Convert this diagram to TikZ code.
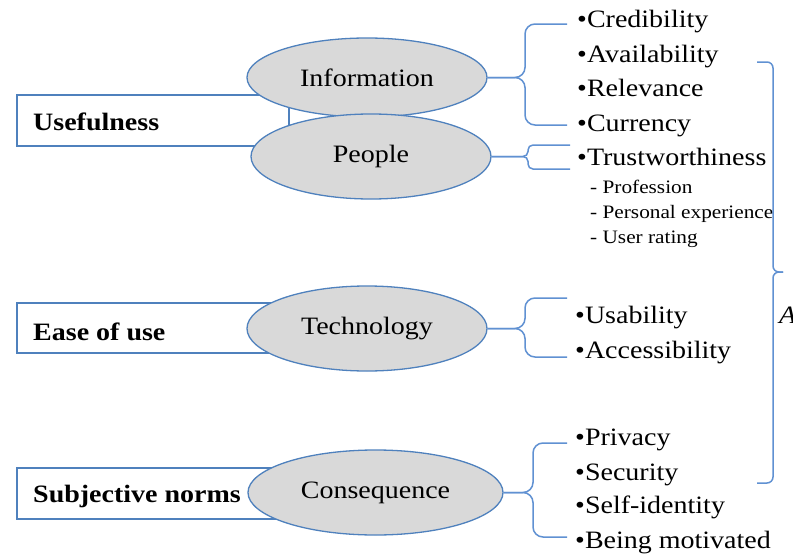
\documentclass[tikz,border=0pt]{standalone}
\usepackage{fontspec}
\setmainfont[FakeStretch=1.12]{Liberation Serif}
\usetikzlibrary{shapes.geometric}
\definecolor{edgeblue}{RGB}{79,129,189}
\definecolor{braceblue}{RGB}{96,145,210}
\definecolor{ellgray}{RGB}{217,217,217}
\begin{document}
\begin{tikzpicture}[x=1pt,y=-1pt,
  factorbox/.style={draw=edgeblue,line width=2.2pt,fill=white},
  factortext/.style={anchor=base west,inner sep=0pt,font=\fontsize{25}{28}\selectfont\bfseries},
  oval/.style={ellipse,draw=edgeblue,line width=1.3pt,fill=ellgray,inner sep=0pt,font=\fontsize{25}{28}\selectfont},
  item/.style={anchor=base west,inner sep=0pt,font=\fontsize{25}{28}\selectfont},
  subitem/.style={anchor=base west,inner sep=0pt,font=\fontsize{19}{22}\selectfont},
  bracepath/.style={draw=braceblue,line width=1.5pt,rounded corners=10pt}
]
\useasboundingbox (0,0) rectangle (793,557);
% factor boxes
\draw[factorbox] (17,95) rectangle (289,146);
\draw[factorbox] (17,303) rectangle (289,353);
\draw[factorbox] (17,468) rectangle (289,519);
\node[factortext] (useful) at (33,130) {Usefulness};
\node[factortext] (ease) at (33,340) {Ease of use};
\node[factortext] (subj) at (33,502) {Subjective norms};
% ellipses
\node[oval,minimum width=240pt,minimum height=79pt] (info) at (367,77.5) {Information};
\node[oval,minimum width=240pt,minimum height=85pt] (people) at (371,156.5) {People};
\node[oval,minimum width=240pt,minimum height=85pt] (tech) at (367,328.5) {Technology};
\node[oval,minimum width=255pt,minimum height=85pt] (cons) at (375.5,492.5) {Consequence};
% item texts
\node[item] (cred) at (577,27) {•Credibility};
\node[item] (avail) at (577,62) {•Availability};
\node[item] (relev) at (577,96) {•Relevance};
\node[item] (curr) at (577,131) {•Currency};
\node[item] (trust) at (577,165) {•Trustworthiness};
\node[subitem] (prof) at (590,193) {- Profession};
\node[subitem] (pers) at (590,218) {- Personal experience};
\node[subitem] (urate) at (590,243) {- User rating};
\node[item] (usab) at (575,323) {•Usability};
\node[item] (access) at (575,358) {•Accessibility};
\node[item] (priv) at (575,445) {•Privacy};
\node[item] (secu) at (575,480) {•Security};
\node[item] (selfid) at (575,513) {•Self-identity};
\node[item] (motiv) at (575,548) {•Being motivated};
\node[item,font=\fontsize{25}{28}\selectfont\itshape] (cutA) at (779,323) {A};
% brace end points
\coordinate (iT) at (567,24);  \coordinate (iB) at (567,125);
\coordinate (pT) at (570,145); \coordinate (pB) at (570,169);
\coordinate (tT) at (567,298); \coordinate (tB) at (567,357);
\coordinate (cT) at (567,443); \coordinate (cB) at (567,537);
\coordinate (rT) at (757,62);  \coordinate (rB) at (757,483);
\coordinate (rTip) at (783,272);
% braces
\draw[bracepath] (info.east) -- (525,77.5) -- (525,24) -- (iT);
\draw[bracepath] (info.east) -- (525,77.5) -- (525,125) -- (iB);
\draw[bracepath,rounded corners=5pt] (people.east) -- (528,156.5) -- (528,145) -- (pT);
\draw[bracepath,rounded corners=5pt] (people.east) -- (528,156.5) -- (528,169) -- (pB);
\draw[bracepath] (tech.east) -- (525,328.5) -- (525,298) -- (tT);
\draw[bracepath] (tech.east) -- (525,328.5) -- (525,357) -- (tB);
\draw[bracepath] (cons.east) -- (533,492.5) -- (533,443) -- (cT);
\draw[bracepath] (cons.east) -- (533,492.5) -- (533,537) -- (cB);
\draw[bracepath,rounded corners=6pt] (rTip) -- (773,272) -- (773,62) -- (rT);
\draw[bracepath,rounded corners=6pt] (rTip) -- (773,272) -- (773,483) -- (rB);
\end{tikzpicture}
\end{document}
